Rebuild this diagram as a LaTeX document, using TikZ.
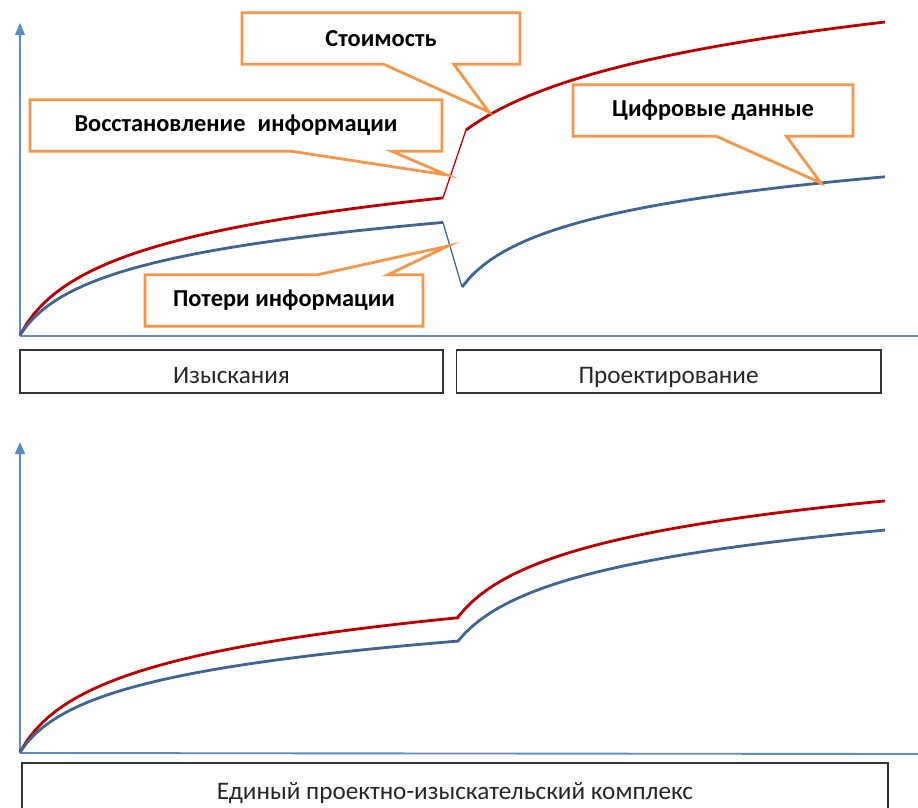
\documentclass[tikz,border=0pt]{standalone}
\usepackage{fontspec}
\setmainfont{Carlito}
\usetikzlibrary{positioning,shapes.callouts,arrows.meta}

\definecolor{axisblue}{HTML}{5B8CC8}
\definecolor{costred}{HTML}{C00000}
\definecolor{datablue}{HTML}{3E6694}
\definecolor{noteorange}{HTML}{F79646}

\begin{document}
\begin{tikzpicture}[%
    x=0.03cm,
    y=-0.03cm,
    axisline/.style={draw=axisblue, line width=1.1pt},
    yaxisline/.style={axisline, -{Triangle[width=0.3cm,length=0.36cm]}},
    costline/.style={draw=costred, line width=2.4pt},
    dataline/.style={draw=datablue, line width=2.4pt},
    jumpline/.style={line width=1.1pt},
    note/.style={%
      rectangle callout,
      draw=noteorange,
      fill=white,
      line width=2.4pt,
      callout pointer width=2.1cm,
      minimum height=1.55cm,
      font=\fontsize{20.8}{24}\selectfont\bfseries
    },
    stagebox/.style={%
      rectangle,
      draw=black!80,
      line width=1.6pt,
      minimum height=1.29cm,
      inner ysep=0pt,
      text height=0.85cm,
      text depth=0.15cm,
      font=\fontsize{21.5}{25}\selectfont,
      text=black!85
    }
  ]
    \useasboundingbox (0,0) rectangle (918,808);

    % upper chart: separate stages
    \coordinate (topOrigin)   at (20,336);
    \coordinate (topYend)     at (20,23);
    \coordinate (topXend)     at (918,336);
    \coordinate (costKink)    at (443,{335-47.5*ln(1+423/25)});
    \coordinate (costJump)    at (466,130);
    \coordinate (dataKink)    at (443,{335-39*ln(1+423/25)});
    \coordinate (dataDrop)    at (462,287);
    \coordinate (costTip)     at (489,112);
    \coordinate (restoreTip)  at (447,175);
    \coordinate (digitalTip)  at (821,183);
    \coordinate (lossTip)     at (448,246);

    \draw[axisline]  (topOrigin) -- (topXend);
    \draw[yaxisline] (topOrigin) -- (topYend);

    \draw[costline] plot[domain=20:443, samples=60] (\x, {335-47.5*ln(1+(\x-20)/25)});
    \draw[costline, jumpline] (costKink) -- (costJump);
    \draw[costline] plot[domain=466:885, samples=60] (\x, {130-59*ln(1+(\x-466)/80)});

    \draw[dataline] plot[domain=20:443, samples=60] (\x, {335-39*ln(1+(\x-20)/25)});
    \draw[dataline, jumpline] (dataKink) -- (dataDrop);
    \draw[dataline] plot[domain=462:885, samples=60] (\x, {287-40.6*ln(1+(\x-462)/30)});

    \node[note, minimum width=8.34cm, callout absolute pointer={(costTip)}]     (cost)    at (381,38.5)  {Стоимость};
    \node[note, minimum width=12.36cm, callout pointer width=3cm,
          callout absolute pointer={(restoreTip)}]                             (restore) at (236,125.5) {Восстановление\enspace информации};
    \node[note, minimum width=8.4cm, callout absolute pointer={(digitalTip)}]   (digital) at (713,110.5) {Цифровые данные};
    \node[note, minimum width=8.34cm, callout absolute pointer={(lossTip)}]     (loss)    at (284,300.5) {Потери информации};

    \node[stagebox, minimum width=12.69cm]                         (survey) at (231.5,371.5) {Изыскания};
    \node[stagebox, minimum width=12.72cm, right=0.35cm of survey] (design)                  {Проектирование};

    % lower chart: one complex
    \coordinate (lowOrigin) at (20,753);
    \coordinate (lowYend)   at (20,442);
    \coordinate (lowXend)   at (918,754);

    \draw[axisline, line width=1.6pt] (lowOrigin) -- (lowXend);
    \draw[yaxisline] (lowOrigin) -- (lowYend);

    \draw[costline] plot[domain=20:458, samples=60] (\x, {752-46*ln(1+(\x-20)/25)})
                    -- plot[domain=458:885, samples=60] (\x, {617-45*ln(1+(\x-458)/35)});
    \draw[dataline] plot[domain=20:458, samples=60] (\x, {752-38*ln(1+(\x-20)/25)})
                    -- plot[domain=458:885, samples=60] (\x, {641-43*ln(1+(\x-458)/35)});

    \node[stagebox, minimum width=25.98cm, minimum height=1.5cm] (complex) at (455,788) {Единый проектно-изыскательский комплекс};
\end{tikzpicture}
\end{document}
